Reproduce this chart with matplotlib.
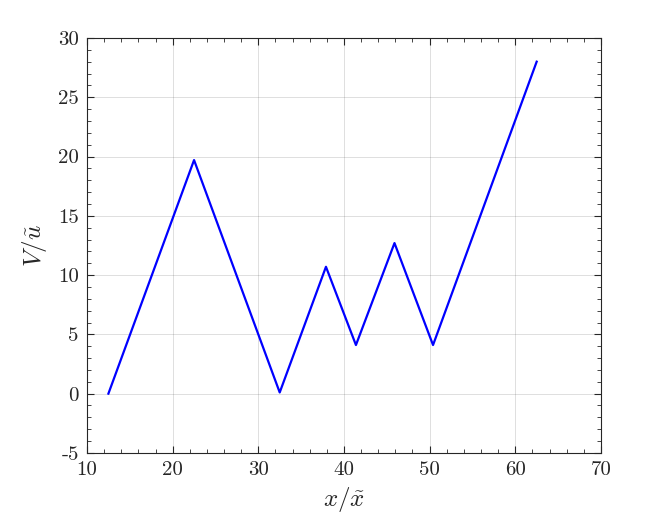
import matplotlib
matplotlib.use("Agg")
import matplotlib.pyplot as plt
from matplotlib.ticker import MultipleLocator

# -----------------------------
# Data
# -----------------------------
x_vals = [12.5, 22.5, 32.5, 37.9, 41.4, 45.9, 50.4, 62.5]
v_vals = [0.0, 19.7, 0.1, 10.7, 4.1, 12.7, 4.1, 28.0]

x_ticks = [10, 20, 30, 40, 50, 60, 70]
y_ticks = [-5, 0, 5, 10, 15, 20, 25, 30]

# -----------------------------
# Style
# -----------------------------
plt.rcParams["font.family"] = ["cmr10", "DejaVu Serif"]
plt.rcParams["mathtext.fontset"] = "cm"
plt.rcParams["axes.formatter.use_mathtext"] = True

dark = (0.15, 0.15, 0.15)

fig = plt.figure(figsize=(6.64, 5.2), dpi=100)
ax = fig.add_axes([0.131, 0.129, 0.774, 0.798])

ax.plot(x_vals, v_vals, color=(0, 0, 1), linewidth=1.6)

ax.set_xlim(10, 70)
ax.set_ylim(-5, 30)
ax.set_xticks(x_ticks)
ax.set_yticks(y_ticks)
ax.set_xticklabels([str(t) for t in x_ticks])
ax.set_yticklabels([str(t) for t in y_ticks])
ax.xaxis.set_minor_locator(MultipleLocator(2))
ax.yaxis.set_minor_locator(MultipleLocator(1))

ax.tick_params(which="both", direction="in", top=True, right=True,
               color=dark, labelcolor=dark, labelsize=15, pad=6)
ax.tick_params(which="major", length=5, width=0.8)
ax.tick_params(which="minor", length=3, width=0.6)

for s in ax.spines.values():
    s.set_color(dark)
    s.set_linewidth(0.8)

ax.grid(True, which="major", color=(0.15, 0.15, 0.15), alpha=0.15, linewidth=0.7)
ax.set_axisbelow(True)

ax.set_xlabel(r"$x/\tilde{x}$", fontsize=18, color=dark, labelpad=4)
ax.set_ylabel(r"$V/\tilde{u}$", fontsize=18, color=dark, labelpad=6)

fig.savefig("out.png", dpi=100)
